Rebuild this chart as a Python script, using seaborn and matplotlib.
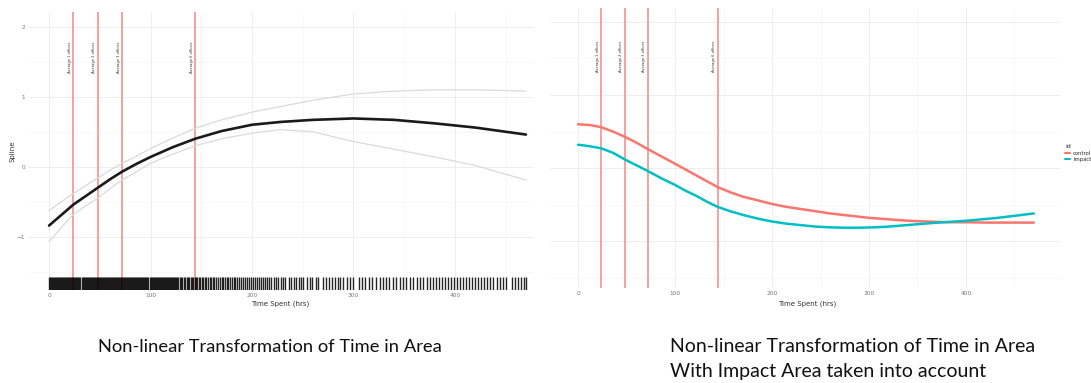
import numpy as np
import pandas as pd
import matplotlib
matplotlib.use("Agg")
import matplotlib.pyplot as plt
from matplotlib.lines import Line2D
import seaborn as sns

# ---- spline fit of time in area (left panel) ----
time_fit = [0, 12, 24, 36, 48, 60, 72, 86, 100, 122, 144, 170, 200, 228,
            260, 300, 340, 380, 420, 470]
spline_fit = [-0.84, -0.69, -0.54, -0.42, -0.30, -0.18, -0.07, 0.04, 0.14,
              0.28, 0.40, 0.51, 0.60, 0.64, 0.67, 0.69, 0.67, 0.62, 0.56, 0.46]
spline_upper = [-0.63, -0.50, -0.38, -0.27, -0.16, -0.05, 0.05, 0.15, 0.26,
                0.41, 0.55, 0.67, 0.78, 0.86, 0.95, 1.04, 1.08, 1.10, 1.10, 1.08]
spline_lower = [-1.07, -0.87, -0.68, -0.56, -0.45, -0.31, -0.19, -0.07, 0.05,
                0.18, 0.30, 0.40, 0.48, 0.53, 0.50, 0.36, 0.25, 0.14, 0.02, -0.19]

# observed time spent (hrs), shown as a rug
time_obs = [
    0, 1, 2, 3, 4, 5, 6, 7, 8, 9, 10, 11, 12, 13, 14, 15, 16, 17, 18, 19, 20,
    21, 22, 23, 24, 25, 26, 27, 28, 29, 30, 31, 32, 33, 34, 35, 36, 37, 38, 39,
    40, 41, 42, 43, 44, 45, 46, 47, 48, 49, 50, 51, 52, 53, 54, 55, 56, 57, 58,
    59, 60, 61, 62, 63, 64, 65, 66, 67, 68, 69, 70, 71, 72, 73, 74, 75, 76, 77,
    78, 79, 80, 81, 82, 83, 84, 85, 86, 87, 88, 89, 90, 91, 92, 93, 94, 95, 96,
    97, 98, 99, 100, 101, 102, 103, 104, 105, 106, 107, 108, 109, 110, 111,
    112, 113, 114, 115, 116, 117, 118, 119, 120, 121, 122, 123, 124, 125, 126,
    127.5, 129, 130, 131.5, 133, 134, 135.5, 137, 138, 139.5, 141, 142, 143.5,
    145, 146, 147.5, 149, 150.5, 152, 153.5, 155, 157, 158.5, 160, 161.5, 163,
    165, 166.5, 168, 170, 171.5, 173, 175, 176.5, 178, 180, 182, 183.5, 185,
    187, 189, 191, 193, 195, 197, 199,
    201, 203, 205, 206.5, 209, 211, 213, 215, 217, 219, 222, 224, 226, 229,
    231, 233, 236, 238, 241, 243, 246, 248, 250, 254, 257, 259, 263, 265,
    270, 273, 276, 279, 282, 285, 287, 290, 294, 297, 300, 305, 308, 311,
    315, 318, 322, 326, 329, 332, 335, 339, 342, 346, 349, 352, 356, 359,
    363, 366, 369, 372, 375, 378, 381, 384, 387, 390, 393, 396, 399, 402,
    405, 408, 411, 414, 417, 420, 423, 426, 429, 432, 435, 438, 441, 444,
    447, 450, 456, 459, 462, 465, 468, 470,
]

# ---- spline by area (right panel) ----
time_ctrl = [0, 12, 24, 36, 48, 60, 72, 86, 100, 111, 122, 133, 144, 157,
             170, 185, 200, 215, 230, 245, 260, 280, 300, 320, 340, 360, 380,
             400, 420, 445, 470]
spline_ctrl = [0.60, 0.59, 0.56, 0.50, 0.43, 0.35, 0.26, 0.16, 0.06, -0.02,
               -0.10, -0.18, -0.26, -0.33, -0.39, -0.44, -0.49, -0.53, -0.56,
               -0.59, -0.62, -0.65, -0.68, -0.70, -0.72, -0.73, -0.74, -0.74,
               -0.745, -0.745, -0.745]
time_imp = [0, 12, 24, 36, 48, 60, 72, 86, 100, 111, 122, 133, 144, 157,
            170, 185, 200, 215, 230, 245, 260, 275, 290, 305, 320, 343, 366,
            400, 433, 470]
spline_imp = [0.32, 0.30, 0.27, 0.21, 0.12, 0.04, -0.04, -0.14, -0.23, -0.31,
              -0.38, -0.46, -0.53, -0.59, -0.64, -0.69, -0.73, -0.76, -0.78,
              -0.80, -0.81, -0.815, -0.815, -0.81, -0.80, -0.775, -0.75,
              -0.72, -0.68, -0.62]
area_ids = ["control", "impact"]
area_colors = ["#F8766D", "#00BFC4"]

# reference times (hrs) marked with vertical lines
ref_times = [24, 48, 72, 144]
ref_labels = ["Average 1 offices", "Average 2 offices",
              "Average 3 offices", "Average 6 offices"]

sns.set_theme(style="white")
plt.rcParams["font.family"] = ["DejaVu Sans"]

fig = plt.figure(figsize=(10.91, 3.83), dpi=100)
ax1 = fig.add_axes([0.0257, 0.2428, 0.4629, 0.7258])
ax2 = fig.add_axes([0.5041, 0.248, 0.4675, 0.731])

grid_major = dict(color="#ebebeb", linewidth=0.6)
grid_minor = dict(color="#f3f3f3", linewidth=0.4)


def style_axes(ax):
    for s in ax.spines.values():
        s.set_visible(False)
    ax.set_xticks([0, 100, 200, 300, 400])
    ax.set_xticks([50, 150, 250, 350, 450], minor=True)
    ax.set_yticks([-1, 0, 1, 2])
    ax.set_yticks([-1.5, -0.5, 0.5, 1.5], minor=True)
    ax.grid(True, which="major", **grid_major)
    ax.grid(True, which="minor", **grid_minor)
    ax.set_axisbelow(True)
    ax.tick_params(axis="both", which="both", length=0, labelsize=4.2,
                   labelcolor="#777777", pad=2)


# left panel
style_axes(ax1)
df_fit = pd.DataFrame({"time": time_fit, "fit": spline_fit,
                       "upper": spline_upper, "lower": spline_lower})
sns.lineplot(data=df_fit, x="time", y="upper", ax=ax1, color="#dadada", lw=0.9)
sns.lineplot(data=df_fit, x="time", y="lower", ax=ax1, color="#dadada", lw=0.9)
sns.lineplot(data=df_fit, x="time", y="fit", ax=ax1, color="#1a1a1a", lw=1.9)
sns.rugplot(x=time_obs, ax=ax1, height=0.047, color="black", linewidth=1.0,
            alpha=0.85)
ax1.set_xlim(-20.7, 477)
ax1.set_ylim(-1.76, 2.21)
ax1.set_xlabel("Time Spent (hrs)", fontsize=5, color="#333333", labelpad=2)
ax1.set_ylabel("Spline", fontsize=5, color="#333333", labelpad=1)

# right panel
style_axes(ax2)
df_area = pd.concat([
    pd.DataFrame({"time": time_ctrl, "spline": spline_ctrl, "id": area_ids[0]}),
    pd.DataFrame({"time": time_imp, "spline": spline_imp, "id": area_ids[1]}),
])
sns.lineplot(data=df_area, x="time", y="spline", hue="id",
             palette=dict(zip(area_ids, area_colors)), ax=ax2, lw=1.8,
             legend=False)
ax2.set_xlim(-29, 497)
ax2.set_ylim(-1.64, 2.19)
ax2.set_yticklabels([])
ax2.set_xlabel("Time Spent (hrs)", fontsize=5, color="#333333")
ax2.xaxis.set_label_coords(0.505, -0.045)
ax2.set_ylabel("")

# reference lines with their labels
for ax, ylab in ((ax1, 1.57), (ax2, 1.53)):
    for t, lab in zip(ref_times, ref_labels):
        ax.axvline(t, color="#f29a9a", lw=1.3, zorder=1)
        ax.text(t - 1.5, ylab, lab, rotation=90, fontsize=2.6,
                color="#333333", ha="right", va="center")

handles = [Line2D([0], [0], color=c, lw=1.5) for c in area_colors]
fig.legend(handles, area_ids, title="id", loc="center left",
           bbox_to_anchor=(0.972, 0.6), frameon=False, fontsize=3.8,
           title_fontsize=4.5, handlelength=0.9, handletextpad=0.6,
           labelspacing=0.3, alignment="left")

cap_font = ["Lato", "DejaVu Sans"]
fig.text(0.2475, 0.094, "Non-linear Transformation of Time in Area",
         ha="center", va="center", fontsize=13.2, family=cap_font,
         color="#111111")
fig.text(0.614, 0.063,
         "Non-linear Transformation of Time in Area\n"
         "With Impact Area taken into account",
         ha="left", va="center", fontsize=14, family=cap_font,
         color="#111111", linespacing=1.6)

fig.savefig("out.png", dpi=100)
